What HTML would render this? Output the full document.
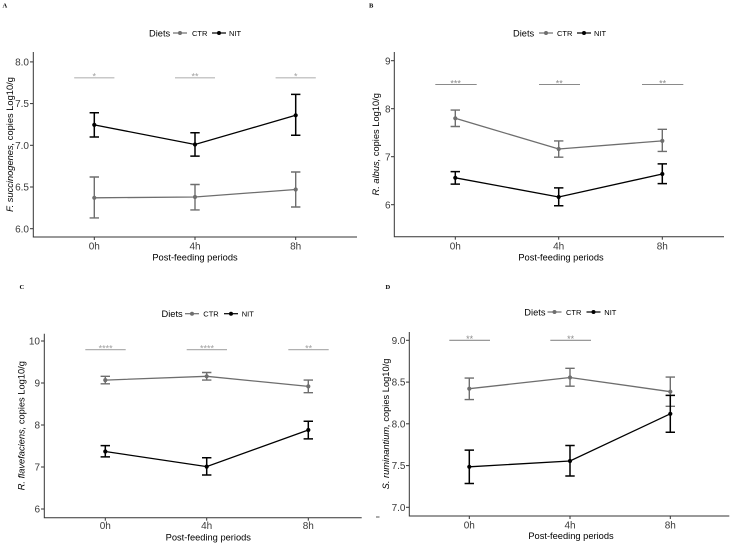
<!DOCTYPE html>
<html><head><meta charset="utf-8"><style>
html,body{margin:0;padding:0;background:#fff;}
svg{display:block;}
text{font-family:"Liberation Sans",Arial,sans-serif;}
.tk{font-size:10px;fill:#3a3a3a;}
.tt{font-size:9.3px;fill:#000;}
.lg{font-size:9.3px;fill:#000;}
.ll{font-size:7.5px;fill:#000;}
.pl{font-family:"Liberation Serif",serif;font-weight:bold;font-size:6.5px;fill:#000;}
.ax{stroke:#333;stroke-width:1;fill:none;}
.ctr{stroke:#6e6e6e;stroke-width:1.3;fill:none;}
.nit{stroke:#000;stroke-width:1.3;fill:none;}
.ectr{stroke:#6e6e6e;stroke-width:1.4;fill:none;}
.enit{stroke:#000;stroke-width:1.5;fill:none;}
</style></head><body>
<svg width="733" height="543" viewBox="0 0 733 543" xmlns="http://www.w3.org/2000/svg">
<rect width="733" height="543" fill="#fff"/>

<!-- ================= PANEL A ================= -->
<text class="pl" x="2.5" y="7.5">A</text>
<!-- legend -->
<text class="lg" x="149" y="36.5">Diets</text>
<line x1="173" y1="33" x2="187" y2="33" stroke="#6e6e6e" stroke-width="1.2"/><circle cx="180" cy="33" r="2" fill="#6e6e6e"/>
<text class="ll" x="192" y="35.8">CTR</text>
<line x1="212" y1="33" x2="226" y2="33" stroke="#000" stroke-width="1.2"/><circle cx="219" cy="33" r="2" fill="#000"/>
<text class="ll" x="229" y="35.8">NIT</text>
<!-- axes -->
<path class="ax" d="M33.3 52 V237 H357"/>
<g class="ax"><line x1="30" y1="61.9" x2="33.3" y2="61.9"/><line x1="30" y1="103.6" x2="33.3" y2="103.6"/><line x1="30" y1="145.3" x2="33.3" y2="145.3"/><line x1="30" y1="187" x2="33.3" y2="187"/><line x1="30" y1="228.7" x2="33.3" y2="228.7"/>
<line x1="94.3" y1="237" x2="94.3" y2="240"/><line x1="195" y1="237" x2="195" y2="240"/><line x1="295.7" y1="237" x2="295.7" y2="240"/></g>
<g class="tk" text-anchor="end"><text x="29" y="65.5">8.0</text><text x="29" y="107.2">7.5</text><text x="29" y="148.9">7.0</text><text x="29" y="190.6">6.5</text><text x="29" y="232.3">6.0</text></g>
<g class="tk" text-anchor="middle"><text x="94.3" y="249.5">0h</text><text x="195" y="249.5">4h</text><text x="295.7" y="249.5">8h</text></g>
<text class="tt" x="195" y="260.5" text-anchor="middle">Post-feeding periods</text>
<text class="tt" transform="translate(13,144.5) rotate(-90)" text-anchor="middle"><tspan font-style="italic">F. succinogenes,</tspan> copies Log10/g</text>
<!-- significance -->
<g stroke="#b5b5b5" stroke-width="1.2"><line x1="74.2" y1="77.8" x2="114.4" y2="77.8"/><line x1="175" y1="77.8" x2="215" y2="77.8"/><line x1="275.6" y1="77.8" x2="315.8" y2="77.8"/></g>
<g font-size="9" fill="#a0a0a0" text-anchor="middle" font-family="Liberation Sans, sans-serif"><text x="94.3" y="79.6">*</text><text x="195" y="79.6">**</text><text x="295.7" y="79.6">*</text></g>
<!-- CTR -->
<polyline class="ctr" points="94.3,197.8 195,197 295.7,189.5"/>
<path class="ectr" d="M94.3 177 V217.9 M89.6 177 H99 M89.6 217.9 H99 M195 184.5 V209.9 M190.3 184.5 H199.7 M190.3 209.9 H199.7 M295.7 172 V207 M291 172 H300.4 M291 207 H300.4"/>
<g fill="#6e6e6e"><circle cx="94.3" cy="197.8" r="2.1"/><circle cx="195" cy="197" r="2.1"/><circle cx="295.7" cy="189.5" r="2.1"/></g>
<!-- NIT -->
<polyline class="nit" points="94.3,124.9 195,144.5 295.7,115.3"/>
<path class="enit" d="M94.3 112.8 V137 M89.6 112.8 H99 M89.6 137 H99 M195 132.8 V156.1 M190.3 132.8 H199.7 M190.3 156.1 H199.7 M295.7 94.4 V135.3 M291 94.4 H300.4 M291 135.3 H300.4"/>
<g fill="#000"><circle cx="94.3" cy="124.9" r="2.1"/><circle cx="195" cy="144.5" r="2.1"/><circle cx="295.7" cy="115.3" r="2.1"/></g>

<!-- ================= PANEL B ================= -->
<text class="pl" x="369" y="7.5">B</text>
<text class="lg" x="513" y="36.5">Diets</text>
<line x1="539" y1="33" x2="553" y2="33" stroke="#6e6e6e" stroke-width="1.2"/><circle cx="546" cy="33" r="2" fill="#6e6e6e"/>
<text class="ll" x="557" y="35.8">CTR</text>
<line x1="577" y1="33" x2="591" y2="33" stroke="#000" stroke-width="1.2"/><circle cx="584" cy="33" r="2" fill="#000"/>
<text class="ll" x="594" y="35.8">NIT</text>
<path class="ax" d="M394.3 52 V236.7 H724"/>
<g class="ax"><line x1="391" y1="60.7" x2="394.3" y2="60.7"/><line x1="391" y1="108.7" x2="394.3" y2="108.7"/><line x1="391" y1="156.7" x2="394.3" y2="156.7"/><line x1="391" y1="204.7" x2="394.3" y2="204.7"/>
<line x1="455.3" y1="236.7" x2="455.3" y2="239.7"/><line x1="558.7" y1="236.7" x2="558.7" y2="239.7"/><line x1="662.3" y1="236.7" x2="662.3" y2="239.7"/></g>
<g class="tk" text-anchor="end"><text x="390.5" y="64.3">9</text><text x="390.5" y="112.3">8</text><text x="390.5" y="160.3">7</text><text x="390.5" y="208.3">6</text></g>
<g class="tk" text-anchor="middle"><text x="455.3" y="249.5">0h</text><text x="558.7" y="249.5">4h</text><text x="662.3" y="249.5">8h</text></g>
<text class="tt" x="561" y="260.5" text-anchor="middle">Post-feeding periods</text>
<text class="tt" transform="translate(379,144.3) rotate(-90)" text-anchor="middle"><tspan font-style="italic">R. albus,</tspan> copies Log10/g</text>
<g stroke="#8a8a8a" stroke-width="1.1"><line x1="435.3" y1="84.5" x2="476.7" y2="84.5"/><line x1="539" y1="84.5" x2="580" y2="84.5"/><line x1="642" y1="84.5" x2="683.3" y2="84.5"/></g>
<g font-size="9" fill="#8a8a8a" text-anchor="middle"><text x="455.6" y="86.4">***</text><text x="559.3" y="86.4">**</text><text x="662.6" y="86.4">**</text></g>
<polyline class="ctr" points="455.3,118.3 558.7,149 662.3,140.9"/>
<path class="ectr" d="M455.3 110.1 V126.5 M450.6 110.1 H460 M450.6 126.5 H460 M558.7 140.9 V157.2 M554 140.9 H563.4 M554 157.2 H563.4 M662.3 129.3 V151.4 M657.6 129.3 H667 M657.6 151.4 H667"/>
<g fill="#6e6e6e"><circle cx="455.3" cy="118.3" r="2.1"/><circle cx="558.7" cy="149" r="2.1"/><circle cx="662.3" cy="140.9" r="2.1"/></g>
<polyline class="nit" points="455.3,177.8 558.7,197 662.3,174"/>
<path class="enit" d="M455.3 171.6 V184.1 M450.6 171.6 H460 M450.6 184.1 H460 M558.7 187.9 V205.7 M554 187.9 H563.4 M554 205.7 H563.4 M662.3 163.9 V183.6 M657.6 163.9 H667 M657.6 183.6 H667"/>
<g fill="#000"><circle cx="455.3" cy="177.8" r="2.1"/><circle cx="558.7" cy="197" r="2.1"/><circle cx="662.3" cy="174" r="2.1"/></g>

<!-- ================= PANEL C ================= -->
<text class="pl" x="19.5" y="289">C</text>
<text class="lg" x="161.5" y="317.2">Diets</text>
<line x1="185" y1="313.7" x2="199" y2="313.7" stroke="#6e6e6e" stroke-width="1.2"/><circle cx="192" cy="313.7" r="2" fill="#6e6e6e"/>
<text class="ll" x="203.3" y="316.5">CTR</text>
<line x1="224" y1="313.7" x2="238" y2="313.7" stroke="#000" stroke-width="1.2"/><circle cx="231" cy="313.7" r="2" fill="#000"/>
<text class="ll" x="241.7" y="316.5">NIT</text>
<path class="ax" d="M44.3 333.7 V517.7 H361.7"/>
<g class="ax"><line x1="41" y1="341" x2="44.3" y2="341"/><line x1="41" y1="383" x2="44.3" y2="383"/><line x1="41" y1="425" x2="44.3" y2="425"/><line x1="41" y1="467" x2="44.3" y2="467"/><line x1="41" y1="509" x2="44.3" y2="509"/>
<line x1="105.3" y1="517.7" x2="105.3" y2="520.7"/><line x1="206.7" y1="517.7" x2="206.7" y2="520.7"/><line x1="308.3" y1="517.7" x2="308.3" y2="520.7"/></g>
<g class="tk" text-anchor="end"><text x="40" y="344.6">10</text><text x="40" y="386.6">9</text><text x="40" y="428.6">8</text><text x="40" y="470.6">7</text><text x="40" y="512.6">6</text></g>
<g class="tk" text-anchor="middle"><text x="105.3" y="529">0h</text><text x="206.7" y="529">4h</text><text x="308.3" y="529">8h</text></g>
<text class="tt" x="208.3" y="540.5" text-anchor="middle">Post-feeding periods</text>
<text class="tt" transform="translate(24.5,425.7) rotate(-90)" text-anchor="middle"><tspan font-style="italic">R. flavefaciens,</tspan> copies Log10/g</text>
<g stroke="#b0b0b0" stroke-width="1.2"><line x1="85.3" y1="349.6" x2="125.7" y2="349.6"/><line x1="186.7" y1="349.6" x2="227" y2="349.6"/><line x1="288.3" y1="349.6" x2="328.7" y2="349.6"/></g>
<g font-size="9" fill="#a0a0a0" text-anchor="middle"><text x="105.6" y="351.5">****</text><text x="207" y="351.5">****</text><text x="308.6" y="351.5">**</text></g>
<polyline class="ctr" points="105.3,380.1 206.7,376.3 308.3,386.4"/>
<path class="ectr" d="M105.3 376.3 V383.8 M100.6 376.3 H110 M100.6 383.8 H110 M206.7 372.5 V380.1 M202 372.5 H211.4 M202 380.1 H211.4 M308.3 380.1 V392.7 M303.6 380.1 H313 M303.6 392.7 H313"/>
<g fill="#6e6e6e"><circle cx="105.3" cy="380.1" r="2.1"/><circle cx="206.7" cy="376.3" r="2.1"/><circle cx="308.3" cy="386.4" r="2.1"/></g>
<polyline class="nit" points="105.3,451.5 206.7,466.6 308.3,430"/>
<path class="enit" d="M105.3 445.6 V456.9 M100.6 445.6 H110 M100.6 456.9 H110 M206.7 457.8 V475 M202 457.8 H211.4 M202 475 H211.4 M308.3 421.2 V438.9 M303.6 421.2 H313 M303.6 438.9 H313"/>
<g fill="#000"><circle cx="105.3" cy="451.5" r="2.1"/><circle cx="206.7" cy="466.6" r="2.1"/><circle cx="308.3" cy="430" r="2.1"/></g>

<!-- ================= PANEL D ================= -->
<text class="pl" x="385.5" y="289">D</text>
<text class="lg" x="524.3" y="315.5">Diets</text>
<line x1="547.5" y1="312" x2="561.5" y2="312" stroke="#6e6e6e" stroke-width="1.2"/><circle cx="554.5" cy="312" r="2" fill="#6e6e6e"/>
<text class="ll" x="566" y="314.8">CTR</text>
<line x1="586.5" y1="312" x2="600.5" y2="312" stroke="#000" stroke-width="1.2"/><circle cx="593.5" cy="312" r="2" fill="#000"/>
<text class="ll" x="604.3" y="314.8">NIT</text>
<line x1="376" y1="517" x2="379.5" y2="517" stroke="#555" stroke-width="1"/>
<path class="ax" d="M409.3 332 V516 H729.3"/>
<g class="ax"><line x1="406" y1="340.3" x2="409.3" y2="340.3"/><line x1="406" y1="382.1" x2="409.3" y2="382.1"/><line x1="406" y1="423.8" x2="409.3" y2="423.8"/><line x1="406" y1="465.6" x2="409.3" y2="465.6"/><line x1="406" y1="507.3" x2="409.3" y2="507.3"/>
<line x1="469.3" y1="516" x2="469.3" y2="519"/><line x1="570" y1="516" x2="570" y2="519"/><line x1="670.3" y1="516" x2="670.3" y2="519"/></g>
<g class="tk" text-anchor="end"><text x="405.5" y="343.9">9.0</text><text x="405.5" y="385.7">8.5</text><text x="405.5" y="427.4">8.0</text><text x="405.5" y="469.2">7.5</text><text x="405.5" y="510.9">7.0</text></g>
<g class="tk" text-anchor="middle"><text x="469.3" y="528.3">0h</text><text x="570" y="528.3">4h</text><text x="670.3" y="528.3">8h</text></g>
<text class="tt" x="571" y="538.8" text-anchor="middle">Post-feeding periods</text>
<text class="tt" transform="translate(389,424) rotate(-90)" text-anchor="middle"><tspan font-style="italic">S. ruminantium,</tspan> copies Log10/g</text>
<g stroke="#8c8c8c" stroke-width="1.1"><line x1="449.3" y1="340.3" x2="490" y2="340.3"/><line x1="550.3" y1="340.3" x2="591" y2="340.3"/></g>
<g font-size="9" fill="#8c8c8c" text-anchor="middle"><text x="469.6" y="342.2">**</text><text x="570.6" y="342.2">**</text></g>
<polyline class="ctr" points="469.3,388.7 570,377.5 670.3,391.7"/>
<path class="ectr" d="M469.3 378.1 V399.6 M464.6 378.1 H474 M464.6 399.6 H474 M570 368.3 V386.2 M565.3 368.3 H574.7 M565.3 386.2 H574.7 M670.3 377.1 V406.3 M665.6 377.1 H675 M665.6 406.3 H675"/>
<g fill="#6e6e6e"><circle cx="469.3" cy="388.7" r="2.1"/><circle cx="570" cy="377.5" r="2.1"/><circle cx="670.3" cy="391.7" r="2.1"/></g>
<polyline class="nit" points="469.3,466.8 570,461 670.3,413.8"/>
<path class="enit" d="M469.3 450.1 V483.5 M464.6 450.1 H474 M464.6 483.5 H474 M570 445.5 V476 M565.3 445.5 H574.7 M565.3 476 H574.7 M670.3 395.4 V432.2 M665.6 395.4 H675 M665.6 432.2 H675"/>
<g fill="#000"><circle cx="469.3" cy="466.8" r="2.1"/><circle cx="570" cy="461" r="2.1"/><circle cx="670.3" cy="413.8" r="2.1"/></g>
</svg>
</body></html>
